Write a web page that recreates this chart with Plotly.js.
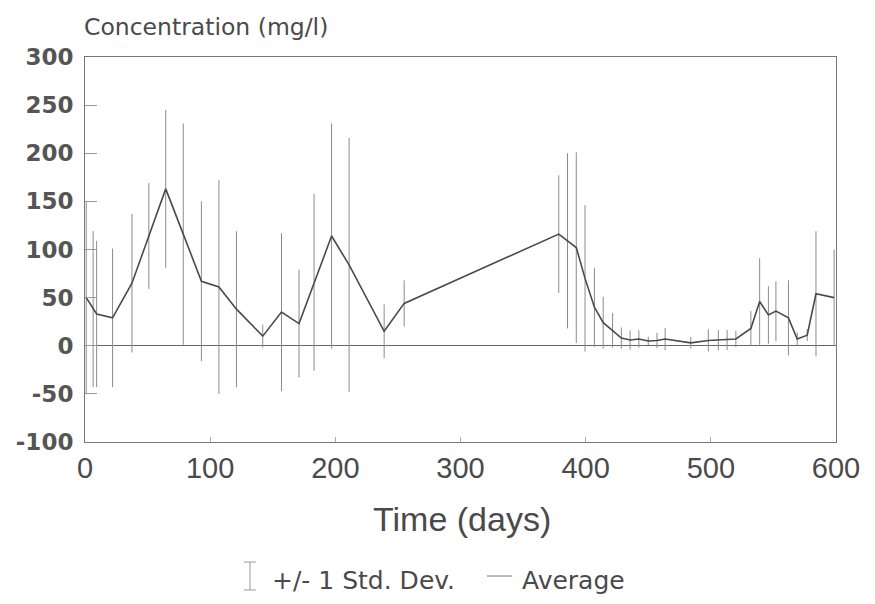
<!DOCTYPE html>
<html>
<head>
<meta charset="utf-8">
<script src="https://cdn.plot.ly/plotly-3.0.1.min.js"></script>
<style>
html,body{margin:0;padding:0;background:#fff;}
#chart{width:875px;height:604px;}
</style>
</head>
<body>
<div id="chart"></div>
<script>
// Time (days)
const days = [1, 6.5, 9.3, 22, 37.5, 51, 64.5, 78.5, 93, 107, 121, 142, 157, 171, 183, 197, 211, 239, 255,
  378.5, 385.5, 392.5, 399.5, 407, 414, 421.5, 428.5, 435.5, 442.5, 450, 457, 463.5, 484,
  498, 506, 513, 520, 532, 539, 546, 552, 562, 569, 577, 584, 598.5];
// Average concentration (mg/l)
const average = [50, 38, 33, 29, 65, 114, 163, 116, 67, 61, 38, 10, 35, 23, 66, 114, 84, 15, 44,
  116, 109, 102, 70, 40, 24, 16, 8, 6, 7, 5, 5.5, 7, 3,
  5.5, 6, 6, 7, 18, 46, 32, 36, 29, 7, 11, 54, 50];
// +/- 1 standard deviation
const stdDev = [100, 81, 76, 72, 72, 55, 82, 115, 83, 111, 81, 12, 82, 56, 92, 117, 132, 28, 24,
  61, 91, 99, 76, 41, 27, 18, 11, 10, 9, 4.5, 8, 11.5, 6,
  11.5, 10.5, 10.5, 8.5, 18, 45, 30, 31, 39, 7, 6, 65, 50];

const xTicks = [0, 100, 200, 300, 400, 500, 600];
const yTicks = [-100, -50, 0, 50, 100, 150, 200, 250, 300];

const trace = {
  x: days, y: average, type: 'scatter', mode: 'lines',
  line: {color: '#4a4a4a', width: 1.6},
  error_y: {type: 'data', array: stdDev, visible: true, width: 0, thickness: 1, color: '#8c8c8c'},
  showlegend: false, hoverinfo: 'skip'
};

const W = 751, H = 385, L = 85, T = 57;
const px = v => (v - L) / W;
const py = v => (T + H - v) / H;

const layout = {
  width: 875, height: 604,
  margin: {l: L, r: 875 - L - W, t: T, b: 604 - T - H},
  paper_bgcolor: '#fff', plot_bgcolor: '#fff',
  showlegend: false,
  xaxis: {
    range: [0, 600], tickvals: xTicks, ticktext: xTicks.map(String),
    ticks: 'inside', ticklen: 5, tickcolor: '#aaa', tickwidth: 1,
    showline: true, linecolor: '#777', linewidth: 1, mirror: true,
    showgrid: false, zeroline: false,
    tickfont: {family: 'Liberation Sans, Arial, sans-serif', size: 29, color: '#4a4a4a'},
    ticklabelstandoff: 0
  },
  yaxis: {
    range: [-100, 300], tickvals: yTicks, ticktext: yTicks.map(String),
    ticks: 'inside', ticklen: 12, tickcolor: '#999', tickwidth: 1,
    showline: true, linecolor: '#777', linewidth: 1, mirror: true,
    showgrid: false, zeroline: true, zerolinecolor: '#666', zerolinewidth: 1,
    tickfont: {family: 'DejaVu Sans, sans-serif', size: 23, color: '#555', weight: 'bold'},
    ticklabelstandoff: 6
  },
  annotations: [
    {text: 'Concentration (mg/l)', xref: 'paper', yref: 'paper', x: px(82), y: py(27),
     xanchor: 'left', yanchor: 'middle', showarrow: false,
     font: {family: 'DejaVu Sans, sans-serif', size: 23.5, color: '#4a4a4a'}},
    {text: 'Time (days)', xref: 'paper', yref: 'paper', x: px(462), y: py(519),
     xanchor: 'center', yanchor: 'middle', showarrow: false,
     font: {family: 'Liberation Sans, Arial, sans-serif', size: 34, color: '#4a4a4a'}},
    {text: '+/- 1 Std. Dev.', xref: 'paper', yref: 'paper', x: px(270), y: py(580),
     xanchor: 'left', yanchor: 'middle', showarrow: false,
     font: {family: 'DejaVu Sans, sans-serif', size: 25, color: '#4a4a4a'}},
    {text: 'Average', xref: 'paper', yref: 'paper', x: px(520), y: py(580),
     xanchor: 'left', yanchor: 'middle', showarrow: false,
     font: {family: 'DejaVu Sans, sans-serif', size: 25, color: '#4a4a4a'}}
  ],
  shapes: [
    {type: 'line', xref: 'paper', yref: 'paper', x0: px(250), x1: px(250), y0: py(562), y1: py(590), line: {color: '#999', width: 1}},
    {type: 'line', xref: 'paper', yref: 'paper', x0: px(244), x1: px(256), y0: py(562), y1: py(562), line: {color: '#999', width: 1}},
    {type: 'line', xref: 'paper', yref: 'paper', x0: px(244), x1: px(256), y0: py(590), y1: py(590), line: {color: '#999', width: 1}},
    {type: 'line', xref: 'paper', yref: 'paper', x0: px(487), x1: px(512), y0: py(576), y1: py(576), line: {color: '#777', width: 1}}
  ]
};

Plotly.newPlot('chart', [trace], layout, {displayModeBar: false, staticPlot: true});
</script>
</body>
</html>
